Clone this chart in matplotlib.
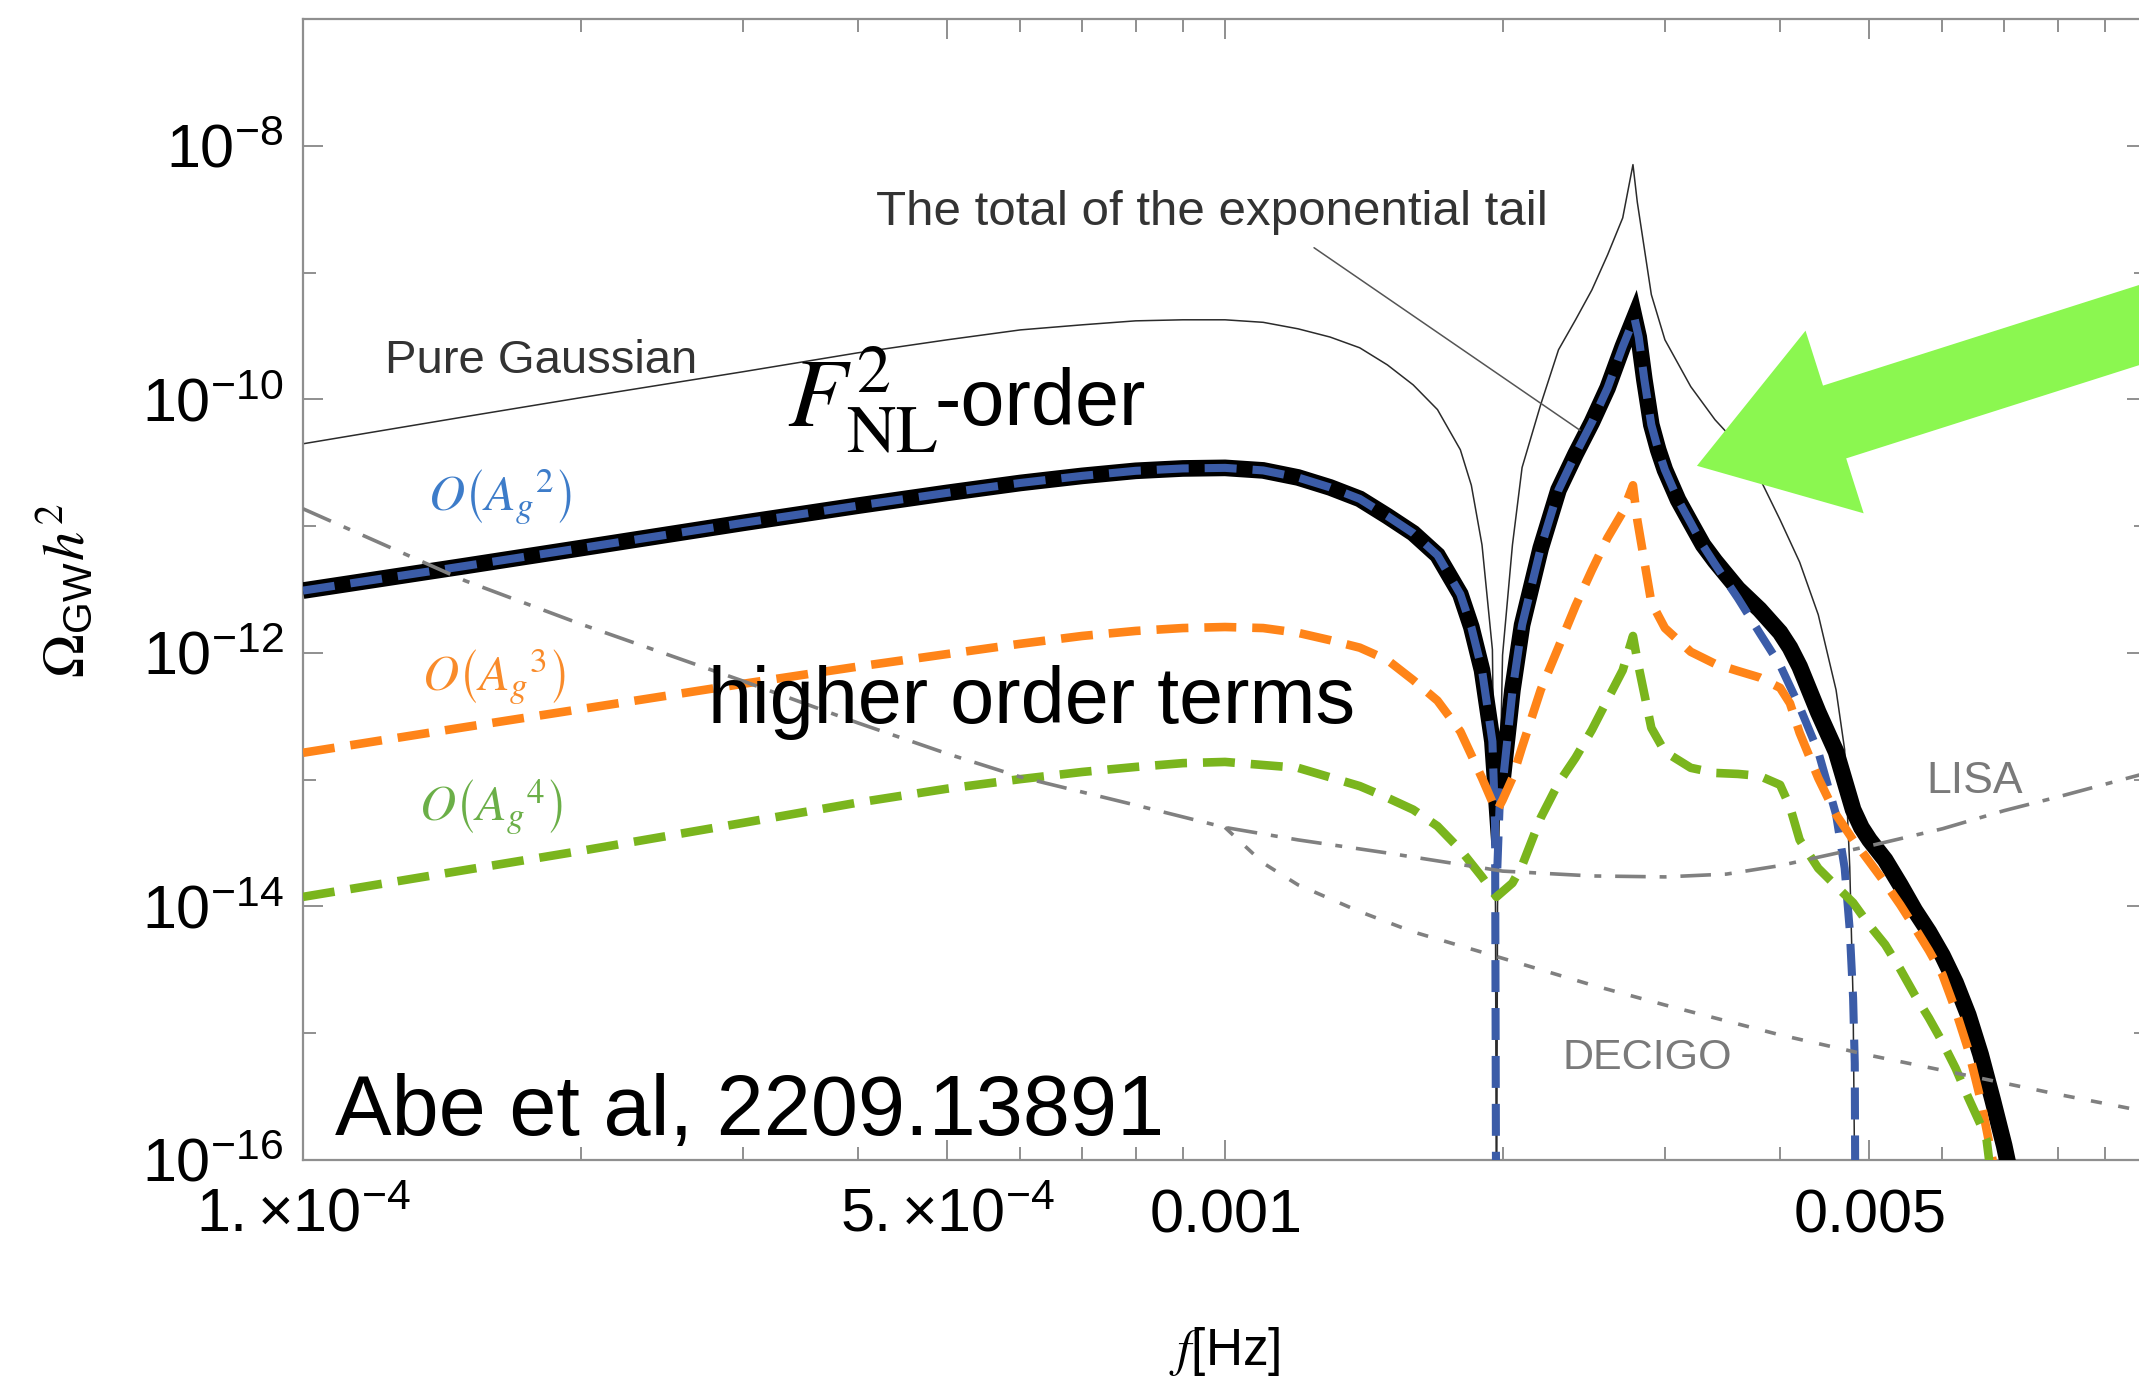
import matplotlib
matplotlib.use("Agg")
import matplotlib.pyplot as plt
from matplotlib.patches import FancyArrowPatch
from matplotlib.ticker import FixedLocator, FixedFormatter, NullFormatter

plt.rcParams.update({
    "font.family": "Liberation Sans",
    "mathtext.fontset": "custom",
    "mathtext.rm": "Liberation Sans",
    "mathtext.it": "Liberation Sans:italic",
    "mathtext.bf": "Liberation Sans:bold",
    "mathtext.sf": "Liberation Sans",
    "lines.scale_dashes": False,
})

NAN = float("nan")

# full F_NL^2-order spectrum (thick black)
freq_total = [1e-4, 1.5e-4, 2e-4, 3e-4, 4e-4, 5e-4, 6e-4, 7e-4, 8e-4, 9e-4,
              1e-3, 1.1e-3, 1.2e-3, 1.3e-3, 1.4e-3, 1.5e-3, 1.6e-3, 1.7e-3,
              1.8e-3, 1.85e-3, 1.9e-3, 1.95e-3, 1.97e-3, 2.0e-3, 2.05e-3, 2.1e-3,
              2.2e-3, 2.3e-3, 2.4e-3, 2.5e-3, 2.6e-3, 2.7e-3, 2.78e-3, 2.81e-3,
              2.85e-3, 2.9e-3, 2.95e-3, 3.0e-3, 3.1e-3, 3.2e-3, 3.3e-3, 3.4e-3,
              3.6e-3, 3.8e-3, 4.0e-3, 4.1e-3, 4.2e-3, 4.4e-3, 4.6e-3, 4.8e-3,
              4.9e-3, 5.0e-3, 5.2e-3, 5.4e-3, 5.6e-3, 5.8e-3, 6.0e-3, 6.2e-3,
              6.4e-3, 6.6e-3, 6.8e-3, 7.0e-3, 7.1e-3]
omega_total = [3.1e-12, 4.85e-12, 6.7e-12, 1.06e-11, 1.45e-11, 1.83e-11, 2.19e-11,
               2.49e-11, 2.73e-11, 2.85e-11, 2.88e-11, 2.75e-11, 2.42e-11, 2.02e-11,
               1.64e-11, 1.2e-11, 8.8e-12, 5.9e-12, 2.9e-12, 1.6e-12, 7.3e-13,
               2.0e-13, 6.9e-14, 1.0e-13, 5.1e-13, 1.66e-12, 6.7e-12, 1.93e-11,
               3.7e-11, 6.6e-11, 1.23e-10, 2.6e-10, 4.4e-10, 3.1e-10, 1.43e-10,
               6.3e-11, 4.0e-11, 2.78e-11, 1.61e-11, 1.06e-11, 7.1e-12, 5.3e-12,
               3.2e-12, 2.2e-12, 1.45e-12, 1.1e-12, 7.8e-13, 3.4e-13, 1.66e-13,
               5.8e-14, 4.2e-14, 3.35e-14, 2.33e-14, 1.48e-14, 9.3e-15, 6.3e-15,
               4.1e-15, 2.5e-15, 1.39e-15, 6.8e-16, 3.0e-16, 1.3e-16, 8e-17]

# O(A_g^2) term (blue dashed); NaN splits the two branches at the dip
freq_o2 = [1e-4, 1.5e-4, 2e-4, 3e-4, 4e-4, 5e-4, 6e-4, 7e-4, 8e-4, 9e-4,
           1e-3, 1.1e-3, 1.2e-3, 1.3e-3, 1.4e-3, 1.5e-3, 1.6e-3, 1.7e-3,
           1.8e-3, 1.85e-3, 1.9e-3, 1.95e-3, 1.963e-3, 1.969e-3, NAN, 1.974e-3,
           1.985e-3, 2.0e-3, 2.05e-3, 2.1e-3, 2.2e-3, 2.3e-3, 2.4e-3, 2.5e-3,
           2.6e-3, 2.7e-3, 2.78e-3, 2.81e-3, 2.85e-3, 2.9e-3, 2.95e-3, 3.0e-3,
           3.1e-3, 3.2e-3, 3.3e-3, 3.4e-3, 3.6e-3, 3.8e-3, 4.0e-3, 4.2e-3,
           4.4e-3, 4.6e-3, 4.7e-3, 4.76e-3, 4.8e-3, 4.82e-3, 4.83e-3]
omega_o2 = [3.1e-12, 4.85e-12, 6.7e-12, 1.06e-11, 1.45e-11, 1.83e-11, 2.19e-11,
            2.49e-11, 2.73e-11, 2.85e-11, 2.88e-11, 2.75e-11, 2.42e-11, 2.02e-11,
            1.64e-11, 1.2e-11, 8.8e-12, 5.9e-12, 2.9e-12, 1.6e-12, 7.3e-13,
            2.0e-13, 4.5e-14, 1e-17, NAN, 2e-14, 6e-14, 9e-14, 5.0e-13, 1.66e-12,
            6.7e-12, 1.93e-11, 3.7e-11, 6.6e-11, 1.23e-10, 2.6e-10, 4.4e-10,
            3.1e-10, 1.43e-10, 6.3e-11, 4.0e-11, 2.78e-11, 1.61e-11, 1.06e-11,
            7.0e-12, 5.0e-12, 2.7e-12, 1.44e-12, 8.0e-13, 3.75e-13, 1.66e-13,
            5.3e-14, 2.0e-14, 6.5e-15, 1.9e-15, 5.8e-16, 1e-17]

# O(A_g^3) term (orange dashed)
freq_o3 = [1e-4, 1.5e-4, 2e-4, 3e-4, 4e-4, 5e-4, 6e-4, 7e-4, 8e-4, 9e-4,
           1e-3, 1.1e-3, 1.2e-3, 1.3e-3, 1.4e-3, 1.5e-3, 1.6e-3, 1.7e-3,
           1.8e-3, 1.9e-3, 1.97e-3, 2.0e-3, 2.05e-3, 2.1e-3, 2.2e-3, 2.3e-3,
           2.4e-3, 2.5e-3, 2.6e-3, 2.7e-3, 2.77e-3, 2.8e-3, 2.9e-3, 3.0e-3,
           3.2e-3, 3.4e-3, 3.6e-3, 3.8e-3, 4.0e-3, 4.1e-3, 4.2e-3, 4.4e-3,
           4.6e-3, 4.8e-3, 5.0e-3, 5.2e-3, 5.4e-3, 5.6e-3, 5.8e-3, 6.0e-3,
           6.2e-3, 6.4e-3, 6.6e-3, 6.8e-3, 7.0e-3]
omega_o3 = [1.63e-13, 2.6e-13, 3.6e-13, 5.7e-13, 7.8e-13, 9.8e-13, 1.18e-12,
            1.36e-12, 1.49e-12, 1.57e-12, 1.6e-12, 1.57e-12, 1.44e-12, 1.26e-12,
            1.1e-12, 8.8e-13, 6.1e-13, 4.2e-13, 2.4e-13, 1.03e-13, 5.6e-14,
            6.9e-14, 1.03e-13, 1.81e-13, 5.1e-13, 1.11e-12, 2.35e-12, 4.5e-12,
            8.1e-12, 1.29e-11, 2.1e-11, 1.12e-11, 2.5e-12, 1.57e-12, 1.02e-12,
            8.2e-13, 7.2e-13, 6.4e-13, 5.3e-13, 4.0e-13, 2.34e-13, 1.03e-13,
            5.3e-14, 3.35e-14, 2.25e-14, 1.53e-14, 1.03e-14, 6.8e-15, 4.5e-15,
            2.9e-15, 1.52e-15, 7.4e-16, 3.0e-16, 1.0e-16, 3e-17]

# O(A_g^4) term (green dashed)
freq_o4 = [1e-4, 1.5e-4, 2e-4, 3e-4, 4e-4, 5e-4, 6e-4, 7e-4, 8e-4, 9e-4,
           1e-3, 1.2e-3, 1.4e-3, 1.5e-3, 1.6e-3, 1.7e-3, 1.8e-3, 1.9e-3,
           1.97e-3, 2.05e-3, 2.1e-3, 2.2e-3, 2.3e-3, 2.4e-3, 2.5e-3, 2.6e-3,
           2.7e-3, 2.77e-3, 2.8e-3, 2.9e-3, 3.0e-3, 3.2e-3, 3.4e-3, 3.6e-3,
           3.8e-3, 4.0e-3, 4.1e-3, 4.2e-3, 4.4e-3, 4.6e-3, 4.8e-3, 5.0e-3,
           5.2e-3, 5.4e-3, 5.6e-3, 5.8e-3, 6.0e-3, 6.2e-3, 6.4e-3, 6.6e-3,
           6.7e-3, 6.8e-3]
omega_o4 = [1.19e-14, 1.94e-14, 2.74e-14, 4.56e-14, 6.6e-14, 8.5e-14, 1.01e-13,
            1.15e-13, 1.26e-13, 1.35e-13, 1.38e-13, 1.24e-13, 8.9e-14, 7.2e-14,
            5.8e-14, 4.3e-14, 2.8e-14, 1.71e-14, 1.19e-14, 1.53e-14, 2.1e-14,
            5.0e-14, 9.4e-14, 1.49e-13, 2.47e-13, 4.3e-13, 7.3e-13, 1.36e-12,
            8.8e-13, 2.56e-13, 1.66e-13, 1.24e-13, 1.13e-13, 1.11e-13, 1.07e-13,
            9.1e-14, 6.1e-14, 3.35e-14, 2.0e-14, 1.45e-14, 1.07e-14, 7.1e-15,
            5.0e-15, 3.2e-15, 2.0e-15, 1.32e-15, 8.5e-16, 5.3e-16, 3.1e-16,
            1.9e-16, 1.44e-16, 6e-17]

# pure Gaussian spectrum (thin black)
freq_gauss = [1e-4, 1.5e-4, 2e-4, 3e-4, 4e-4, 5e-4, 6e-4, 7e-4, 8e-4, 9e-4,
              1e-3, 1.1e-3, 1.2e-3, 1.3e-3, 1.4e-3, 1.5e-3, 1.6e-3, 1.7e-3,
              1.8e-3, 1.85e-3, 1.9e-3, 1.95e-3, 1.965e-3, 1.97e-3, 1.975e-3,
              2.0e-3, 2.05e-3, 2.1e-3, 2.2e-3, 2.3e-3, 2.4e-3, 2.5e-3, 2.6e-3,
              2.7e-3, 2.77e-3, 2.8e-3, 2.9e-3, 3.0e-3, 3.2e-3, 3.4e-3, 3.6e-3,
              3.8e-3, 4.0e-3, 4.2e-3, 4.4e-3, 4.6e-3, 4.7e-3, 4.76e-3, 4.8e-3,
              4.83e-3]
omega_gauss = [4.46e-11, 7.3e-11, 1.03e-10, 1.65e-10, 2.33e-10, 2.95e-10,
               3.53e-10, 3.87e-10, 4.16e-10, 4.24e-10, 4.24e-10, 4.05e-10,
               3.6e-10, 3.1e-10, 2.55e-10, 1.87e-10, 1.3e-10, 8.3e-11, 4.0e-11,
               2.1e-11, 7.1e-12, 1.06e-12, 1e-14, 1e-17, 1e-14, 9.6e-13, 7.1e-12,
               2.9e-11, 9.1e-11, 2.46e-10, 4.24e-10, 7.3e-10, 1.38e-9, 2.7e-9,
               7.1e-9, 3.6e-9, 6.7e-10, 2.95e-10, 1.26e-10, 6.9e-11, 4.4e-11,
               2.4e-11, 1.12e-11, 5.2e-12, 2.0e-12, 5.1e-13, 1.72e-13, 2.05e-14,
               1.8e-15, 1e-17]

# detector sensitivity curves
freq_lisa = [1e-4, 1.5e-4, 2e-4, 3e-4, 4e-4, 5e-4, 6e-4, 8e-4, 1e-3, 1.2e-3,
             1.5e-3, 2e-3, 2.5e-3, 3e-3, 3.5e-3, 4e-3, 5e-3, 6e-3, 7e-3, 8e-3, 1e-2]
omega_lisa = [1.37e-11, 3.7e-12, 1.69e-12, 6.0e-13, 2.8e-13, 1.6e-13, 1.05e-13,
              6.3e-14, 4.2e-14, 3.35e-14, 2.64e-14, 1.9e-14, 1.74e-14, 1.71e-14,
              1.8e-14, 2.1e-14, 3.0e-14, 4.1e-14, 5.7e-14, 7.3e-14, 1.13e-13]
freq_decigo = [1e-3, 1.1e-3, 1.2e-3, 1.4e-3, 1.6e-3, 2e-3, 2.5e-3, 3e-3, 4e-3,
               5e-3, 6e-3, 8e-3, 1e-2]
omega_decigo = [4.2e-14, 2.2e-14, 1.48e-14, 9.1e-15, 6.3e-15, 3.9e-15, 2.4e-15,
                1.67e-15, 9.7e-16, 6.7e-16, 5.1e-16, 3.3e-16, 2.4e-16]

x_major = [1e-4, 5e-4, 1e-3, 5e-3]
x_major_labels = [r"$1.{\times}10^{-4}$", r"$5.{\times}10^{-4}$", r"$0.001$", r"$0.005$"]
x_minor = [2e-4, 3e-4, 4e-4, 6e-4, 7e-4, 8e-4, 9e-4,
           2e-3, 3e-3, 4e-3, 6e-3, 7e-3, 8e-3, 9e-3, 1e-2]
y_major = [1e-16, 1e-14, 1e-12, 1e-10, 1e-8]
y_major_labels = [r"$10^{-16}$", r"$10^{-14}$", r"$10^{-12}$", r"$10^{-10}$", r"$10^{-8}$"]
y_minor = [1e-15, 1e-13, 1e-11, 1e-9, 1e-7]

BLUE = "#3b5ca8"
ORANGE = "#ff8418"
GREEN = "#7ab51d"
GRAY = "#808080"
FRAME = "#8f8f8f"

W, H = 2139, 1376
fig = plt.figure(figsize=(W / 100, H / 100), dpi=100)
ax = fig.add_axes([303 / W, 1 - 1160 / H, (2147 - 303) / W, (1160 - 19) / H])
ax.set_xscale("log")
ax.set_yscale("log")
ax.set_xlim(1e-4, 1e-2)
ax.set_ylim(1e-16, 1e-7)

ax.plot(freq_gauss, omega_gauss, color="#2b2b2b", lw=1.1, zorder=2)
ax.plot(freq_total, omega_total, color="black", lw=12, solid_joinstyle="miter",
        solid_capstyle="butt", zorder=3)
ax.plot(freq_o2, omega_o2, color=BLUE, lw=5.8, dashes=(23, 11.5),
        dash_joinstyle="miter", zorder=4)
ax.plot(freq_o3, omega_o3, color=ORANGE, lw=6.2, dashes=(23, 11.5), zorder=5)
ax.plot(freq_o4, omega_o4, color=GREEN, lw=6.2, dashes=(23, 11.5), zorder=6)
ax.plot(freq_lisa, omega_lisa, color=GRAY, lw=2.6, dashes=(22, 10, 5, 10), zorder=7)
ax.plot(freq_decigo, omega_decigo, color=GRAY, lw=2.6, dashes=(8, 12), zorder=7)

# leader line for the exponential-tail curve
ax.annotate("", xy=(2.427e-3, 5.7e-11), xytext=(1.249e-3, 1.57e-9),
            arrowprops=dict(arrowstyle="-", color="#555555", lw=1.1,
                            shrinkA=0, shrinkB=0), zorder=8)

ax.text(4.18e-4, 2.38e-9, "The total of the exponential tail", fontsize=35.5,
        color="#333333", va="baseline", ha="left")
ax.text(1.227e-4, 1.62e-10, "Pure Gaussian", fontsize=34, color="#333333",
        va="baseline", ha="left")
ax.text(5.77e-3, 7.9e-14, "LISA", fontsize=32, color="#7a7a7a", va="baseline")
ax.text(2.325e-3, 5.2e-16, "DECIGO", fontsize=31, color="#7a7a7a", va="baseline")

ax.text(1.636e-4, 1.7e-11, r"$O\left(A_g{}^{2}\right)$", fontsize=36, color="#3d7cc9",
        ha="center", va="center", math_fontfamily="stix")
ax.text(1.61e-4, 6.5e-13, r"$O\left(A_g{}^{3}\right)$", fontsize=36, color="#f98b2a",
        ha="center", va="center", math_fontfamily="stix")
ax.text(1.6e-4, 6.0e-14, r"$O\left(A_g{}^{4}\right)$", fontsize=36, color="#6baf48",
        ha="center", va="center", math_fontfamily="stix")

ax.text(3.35e-4, 6.07e-11, r"$F^{2}_{\mathrm{NL}}$", fontsize=70, color="black",
        va="baseline", ha="left", math_fontfamily="stix", zorder=9)
ax.text(4.84e-4, 6.29e-11, "-order", fontsize=57, color="black", va="baseline",
        ha="left", zorder=9)
ax.text(2.75e-4, 2.8e-13, "higher order terms", fontsize=57, color="black",
        va="baseline", ha="left", zorder=9)
ax.text(1.083e-4, 1.57e-16, "Abe et al, 2209.13891", fontsize=61, color="black",
        va="baseline", ha="left", zorder=9)

# highlight arrow pointing at the total spectrum
arrow = FancyArrowPatch((1.293e-2, 7.31e-10), (3.25e-3, 2.99e-11),
                        arrowstyle="simple,head_length=104,head_width=138,tail_width=55",
                        mutation_scale=1, color="#8bf750", lw=0, shrinkA=0, shrinkB=0,
                        clip_on=False, zorder=10)
ax.add_patch(arrow)

ax.xaxis.set_major_locator(FixedLocator(x_major))
ax.xaxis.set_major_formatter(FixedFormatter(x_major_labels))
ax.xaxis.set_minor_locator(FixedLocator(x_minor))
ax.xaxis.set_minor_formatter(NullFormatter())
ax.yaxis.set_major_locator(FixedLocator(y_major))
ax.yaxis.set_major_formatter(FixedFormatter(y_major_labels))
ax.yaxis.set_minor_locator(FixedLocator(y_minor))
ax.yaxis.set_minor_formatter(NullFormatter())

ax.tick_params(which="both", direction="in", top=True, right=True, color=FRAME,
               width=1.4, labelsize=44)
ax.tick_params(which="major", length=14.5)
ax.tick_params(which="minor", length=9.5)
ax.tick_params(axis="x", which="major", pad=20)
ax.tick_params(axis="y", which="major", pad=14)
for spine in ax.spines.values():
    spine.set_color(FRAME)
    spine.set_linewidth(1.6)

fig.text(1225 / W, 1 - 1365 / H, r"$f$[Hz]", fontsize=37, ha="center", va="baseline",
         math_fontfamily="stix")
fig.text(66 / W, 1 - 591 / H, r"$\Omega_{\mathregular{GW}}h^2$", fontsize=42, rotation=90,
         ha="center", va="center", math_fontfamily="stix")

fig.savefig("out.png", dpi=100)
